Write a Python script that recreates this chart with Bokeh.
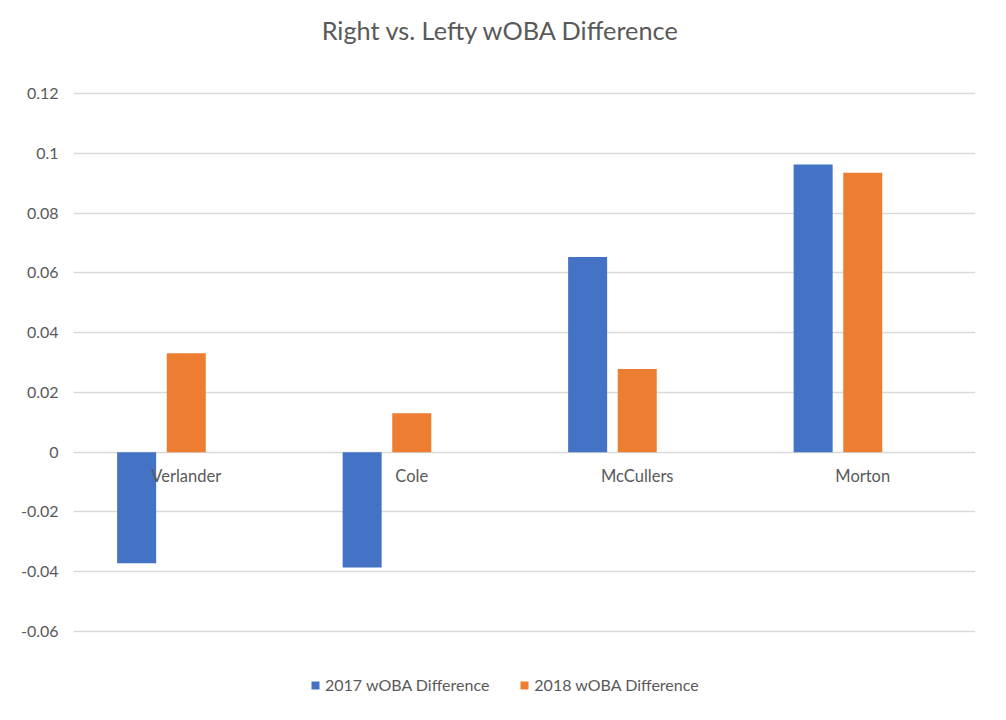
from bokeh.plotting import figure
from bokeh.models import (FactorRange, Range1d, FixedTicker, Legend, LegendItem, ColumnDataSource, Label)
from bokeh.core.properties import value
from bokeh.transform import dodge
from bokeh.embed import file_html
from bokeh.resources import INLINE

pitchers = ["Verlander", "Cole", "McCullers", "Morton"]
woba_2017 = [-0.0372, -0.0386, 0.0653, 0.0962]
woba_2018 = [0.0331, 0.0130, 0.0278, 0.0935]
series_names = ["2017 wOBA Difference", "2018 wOBA Difference"]
series_colors = ["#4472C4", "#ED7D31"]
y_ticks = [-0.06, -0.04, -0.02, 0, 0.02, 0.04, 0.06, 0.08, 0.1, 0.12]
y_tick_labels = ["-0.06", "-0.04", "-0.02", "0", "0.02", "0.04", "0.06", "0.08", "0.1", "0.12"]
title_text = "Right vs. Lefty wOBA Difference"

FONT = "Lato"
TEXT_COLOR = "#595959"
GRID_COLOR = "#D9D9D9"

# the frame spans the full height so that title and legend can live inside it;
# gridlines / ticks are only drawn at y_ticks
p = figure(
    x_range=FactorRange(factors=pitchers),
    y_range=Range1d(-0.0871, 0.1511),
    width=998, height=712,
    output_backend="svg", toolbar_location=None,
    min_border_left=73, min_border_right=23,
    min_border_top=0, min_border_bottom=0,
)
p.title.text = ""
p.outline_line_color = None
p.background_fill_color = "white"
p.border_fill_color = "white"

src = ColumnDataSource(dict(cat=pitchers, y2017=woba_2017, y2018=woba_2018))

r1 = p.vbar(x=dodge("cat", -0.22, range=p.x_range), top="y2017", bottom=0, width=0.173,
            source=src, fill_color=series_colors[0], line_color=None)
r2 = p.vbar(x=dodge("cat", 0.0, range=p.x_range), top="y2018", bottom=0, width=0.173,
            source=src, fill_color=series_colors[1], line_color=None)

# category labels sitting just under the zero line
p.text(x="cat", y=0, text="cat", source=src, y_offset=24,
       text_font=value(FONT), text_font_size="16.5px", text_color=TEXT_COLOR,
       text_align="center", text_baseline="middle")

# grid
p.xgrid.grid_line_color = None
p.ygrid.grid_line_color = GRID_COLOR
p.ygrid.grid_line_width = 1.5
p.ygrid.ticker = FixedTicker(ticks=y_ticks)

p.xaxis.visible = False

# y axis
p.yaxis.ticker = FixedTicker(ticks=y_ticks)
p.yaxis.major_label_overrides = dict(zip(y_ticks, y_tick_labels))
p.yaxis.axis_line_color = None
p.yaxis.major_tick_line_color = None
p.yaxis.minor_tick_line_color = None
p.yaxis.major_tick_out = 0
p.yaxis.major_tick_in = 0
p.yaxis.major_label_text_font = FONT
p.yaxis.major_label_text_font_size = "16px"
p.yaxis.major_label_text_color = TEXT_COLOR
p.yaxis.major_label_standoff = 15

# title (screen units relative to the frame's bottom-left corner)
title = Label(x=427.5, y=683, x_units="screen", y_units="screen", text=title_text,
              text_font=FONT, text_font_size="25.3px", text_color=TEXT_COLOR,
              text_align="center", text_baseline="alphabetic")
p.add_layout(title)

legend = Legend(items=[LegendItem(label=series_names[0], renderers=[r1]),
                       LegendItem(label=series_names[1], renderers=[r2])],
                orientation="horizontal", location=(237, 18),
                glyph_width=10, glyph_height=10, label_standoff=5, spacing=30,
                padding=0, margin=0, border_line_color=None, background_fill_alpha=0,
                label_text_font=FONT, label_text_font_size="16px",
                label_text_color=TEXT_COLOR)
p.add_layout(legend)

open("out.html", "w").write(file_html(p, INLINE))
